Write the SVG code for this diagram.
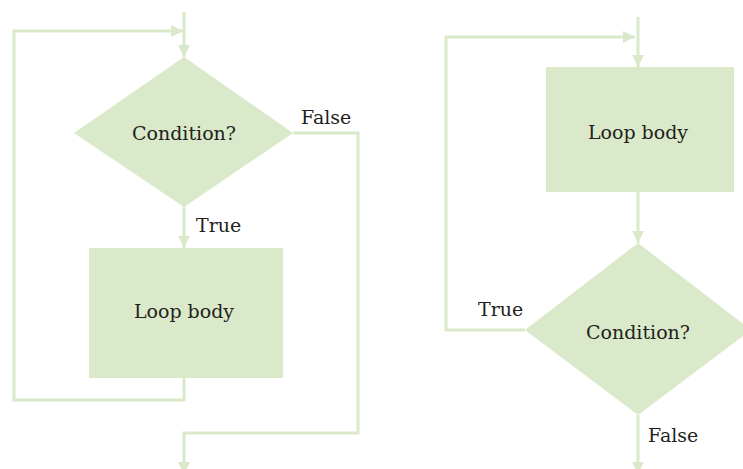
<svg xmlns="http://www.w3.org/2000/svg" width="743" height="469" viewBox="0 0 743 469">
<style>
.shape{fill:#d9e9ca;stroke:none}
.conn{fill:none;stroke:#d9e9ca;stroke-width:3}
.t{font-family:'DejaVu Serif',serif;font-size:19px;fill:#231f20}
.c{text-anchor:middle}
</style>
<defs>
<marker id="ah" markerUnits="userSpaceOnUse" markerWidth="12" markerHeight="12" refX="12" refY="6" orient="auto">
<path d="M0,0 L12,6 L0,12 z" fill="#d9e9ca"/>
</marker>
</defs>
<rect width="743" height="469" fill="#fff"/>
<g id="connectors">
<path class="conn" d="M184,12 V57" marker-end="url(#ah)"/>
<path class="conn" d="M184,378 V400 H14 V31 H183" marker-end="url(#ah)"/>
<path class="conn" d="M184,206 V248" marker-end="url(#ah)"/>
<path class="conn" d="M293,133 H358 V433 H184 V474" marker-end="url(#ah)"/>
<path class="conn" d="M638,17 V67" marker-end="url(#ah)"/>
<path class="conn" d="M638,192 V243" marker-end="url(#ah)"/>
<path class="conn" d="M525,330 H446 V37 H635" marker-end="url(#ah)"/>
<path class="conn" d="M638,415 V474" marker-end="url(#ah)"/>
</g>
<g id="cond1">
<polygon class="shape" points="184,57 293,133 184,207 74,133"/>
<text class="t c" x="184" y="140">Condition?</text>
</g>
<g id="body1">
<rect class="shape" x="89" y="248" width="194" height="130"/>
<text class="t c" x="184" y="318">Loop body</text>
</g>
<g id="body2">
<rect class="shape" x="546" y="67" width="188" height="125"/>
<text class="t c" x="638" y="139">Loop body</text>
</g>
<g id="cond2">
<polygon class="shape" points="638,243 751,330 638,415 525,330"/>
<text class="t c" x="638" y="339">Condition?</text>
</g>
<g id="labels">
<text class="t" x="301" y="124">False</text>
<text class="t" x="196" y="232">True</text>
<text class="t" x="478" y="316">True</text>
<text class="t" x="648" y="442">False</text>
</g>
</svg>
